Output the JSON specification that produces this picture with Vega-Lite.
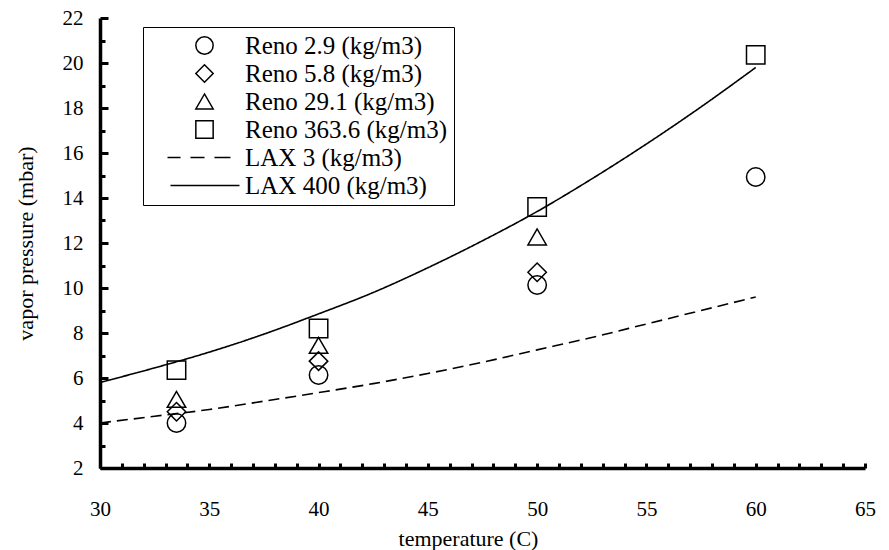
{
  "$schema": "https://vega.github.io/schema/vega-lite/v6.json",
  "width": 765,
  "height": 450,
  "autosize": {"type": "none"},
  "padding": {"left": 100, "top": 18, "right": 24, "bottom": 82},
  "background": "white",
  "config": {
    "view": {"stroke": null},
    "axis": {
      "grid": false,
      "domainColor": "black",
      "domainWidth": 3.5,
      "tickColor": "black",
      "tickWidth": 3,
      "labelFont": "Liberation Serif",
      "labelFontSize": 21,
      "labelColor": "black",
      "titleFont": "Liberation Serif",
      "titleFontSize": 22,
      "titleFontWeight": "normal",
      "titleColor": "black",
      "titleBaseline": "middle",
      "labelOverlap": false,
      "labelBound": false,
      "labelFlush": false
    }
  },
  "datasets": {
    "pts": [
      {"series": "Reno 2.9 (kg/m3)", "t": 33.5, "p": 4.0},
      {"series": "Reno 2.9 (kg/m3)", "t": 40, "p": 6.13},
      {"series": "Reno 2.9 (kg/m3)", "t": 50, "p": 10.13},
      {"series": "Reno 2.9 (kg/m3)", "t": 60, "p": 14.93},
      {"series": "Reno 5.8 (kg/m3)", "t": 33.5, "p": 4.5},
      {"series": "Reno 5.8 (kg/m3)", "t": 40, "p": 6.75},
      {"series": "Reno 5.8 (kg/m3)", "t": 50, "p": 10.7},
      {"series": "Reno 29.1 (kg/m3)", "t": 33.5, "p": 5.05},
      {"series": "Reno 29.1 (kg/m3)", "t": 40, "p": 7.45},
      {"series": "Reno 29.1 (kg/m3)", "t": 50, "p": 12.27},
      {"series": "Reno 363.6 (kg/m3)", "t": 33.5, "p": 6.35},
      {"series": "Reno 363.6 (kg/m3)", "t": 40, "p": 8.2},
      {"series": "Reno 363.6 (kg/m3)", "t": 50, "p": 13.6},
      {"series": "Reno 363.6 (kg/m3)", "t": 60, "p": 20.36}
    ],
    "curves": [
      {"series": "LAX 3 (kg/m3)", "t": 30, "p": 4.0},
      {"series": "LAX 3 (kg/m3)", "t": 32.5, "p": 4.3},
      {"series": "LAX 3 (kg/m3)", "t": 35, "p": 4.6},
      {"series": "LAX 3 (kg/m3)", "t": 37.5, "p": 4.97},
      {"series": "LAX 3 (kg/m3)", "t": 40, "p": 5.35},
      {"series": "LAX 3 (kg/m3)", "t": 42.5, "p": 5.75},
      {"series": "LAX 3 (kg/m3)", "t": 45, "p": 6.2},
      {"series": "LAX 3 (kg/m3)", "t": 47.5, "p": 6.7},
      {"series": "LAX 3 (kg/m3)", "t": 50, "p": 7.25},
      {"series": "LAX 3 (kg/m3)", "t": 52.5, "p": 7.8},
      {"series": "LAX 3 (kg/m3)", "t": 55, "p": 8.4},
      {"series": "LAX 3 (kg/m3)", "t": 57.5, "p": 9.0},
      {"series": "LAX 3 (kg/m3)", "t": 60, "p": 9.6},
      {"series": "LAX 400  (kg/m3)", "t": 30, "p": 5.8},
      {"series": "LAX 400  (kg/m3)", "t": 32.5, "p": 6.45},
      {"series": "LAX 400  (kg/m3)", "t": 35, "p": 7.15},
      {"series": "LAX 400  (kg/m3)", "t": 37.5, "p": 7.95},
      {"series": "LAX 400  (kg/m3)", "t": 40, "p": 8.85},
      {"series": "LAX 400  (kg/m3)", "t": 42.5, "p": 9.8},
      {"series": "LAX 400  (kg/m3)", "t": 45, "p": 10.9},
      {"series": "LAX 400  (kg/m3)", "t": 47.5, "p": 12.1},
      {"series": "LAX 400  (kg/m3)", "t": 50, "p": 13.4},
      {"series": "LAX 400  (kg/m3)", "t": 52.5, "p": 14.85},
      {"series": "LAX 400  (kg/m3)", "t": 55, "p": 16.4},
      {"series": "LAX 400  (kg/m3)", "t": 57.5, "p": 18.05},
      {"series": "LAX 400  (kg/m3)", "t": 60, "p": 19.8}
    ]
  },
  "encoding": {
    "x": {
      "field": "t",
      "type": "quantitative",
      "scale": {"domain": [30, 65], "nice": false, "zero": false},
      "axis": {
        "title": "temperature (C)",
        "values": [30,31,32,33,34,35,36,37,38,39,40,41,42,43,44,45,46,47,48,49,50,51,52,53,54,55,56,57,58,59,60,61,62,63,64,65],
        "labelExpr": "datum.value % 5 === 0 ? datum.label : ''",
        "tickSize": -5,
        "labelPadding": 35,
        "titleX": 368,
        "titleY": 70
      }
    },
    "y": {
      "field": "p",
      "type": "quantitative",
      "scale": {"domain": [2, 22], "nice": false, "zero": false},
      "axis": {
        "title": "vapor pressure (mbar)",
        "values": [2,3,4,5,6,7,8,9,10,11,12,13,14,15,16,17,18,19,20,21,22],
        "labelExpr": "datum.value % 2 === 0 ? datum.label : ''",
        "tickSize": {"condition": {"test": "datum.value % 2 === 0", "value": -8}, "value": -5},
        "labelPadding": 25,
        "titleX": -75,
        "titleY": 225
      }
    }
  },
  "layer": [
    {
      "data": {"name": "curves"},
      "mark": {"type": "line", "color": "black", "strokeWidth": 1.6, "interpolate": "monotone"},
      "encoding": {
        "strokeDash": {
          "field": "series",
          "type": "nominal",
          "scale": {"domain": ["LAX 3 (kg/m3)", "LAX 400  (kg/m3)"], "range": [[11, 6], [1, 0]]},
          "legend": null
        }
      }
    },
    {
      "data": {"name": "pts"},
      "mark": {"type": "point", "filled": false, "color": "black", "strokeWidth": 1.5, "size": 340, "opacity": 1},
      "encoding": {
        "shape": {
          "field": "series",
          "type": "nominal",
          "scale": {
            "domain": ["Reno 2.9 (kg/m3)", "Reno 5.8 (kg/m3)", "Reno 29.1 (kg/m3)", "Reno 363.6 (kg/m3)", "LAX 3 (kg/m3)", "LAX 400  (kg/m3)"],
            "range": ["circle", "diamond", "triangle-up", "square", "M-4.27,0H-2.77M-1.62,0H0M1.15,0H3", "M-3.93,0H4.04"]
          },
          "legend": {
            "title": null,
            "orient": "none",
            "legendX": 43,
            "legendY": 9,
            "padding": 6,
            "strokeColor": "black",
            "fillColor": "white",
            "labelFont": "Liberation Serif",
            "labelFontSize": 25,
            "labelColor": "black",
            "labelLimit": 400,
            "symbolSize": 300,
            "symbolStrokeWidth": 1.5,
            "symbolStrokeColor": "black",
            "symbolFillColor": "transparent",
            "symbolOffset": 43,
            "labelOffset": 28,
            "rowPadding": 2,
            "encode": {
              "legend": {"update": {"strokeWidth": {"value": 1.5}}}
            }
          }
        }
      }
    }
  ]
}
